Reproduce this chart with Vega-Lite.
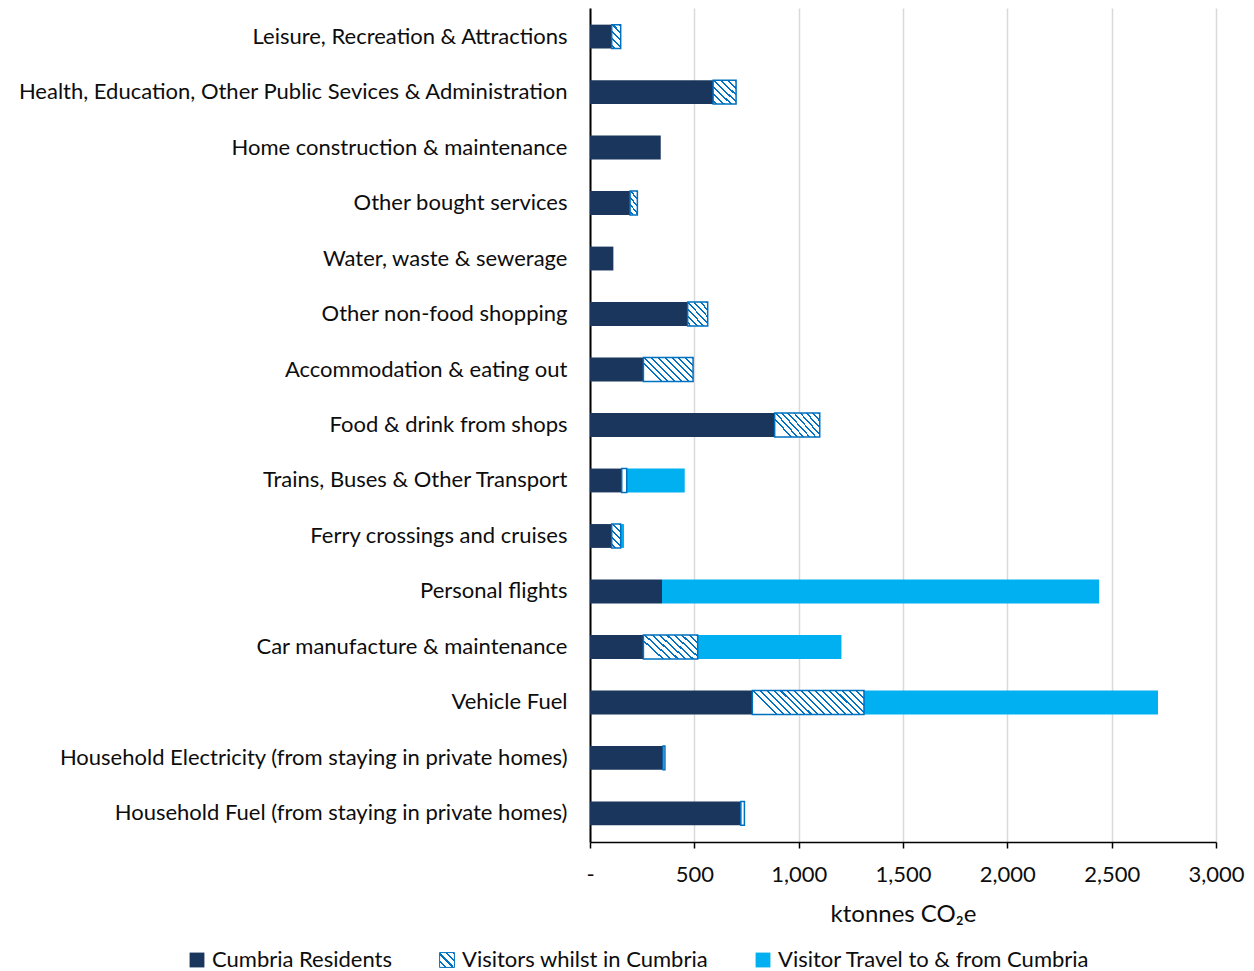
{
  "$schema": "https://vega.github.io/schema/vega-lite/v6.json",
  "width": 626,
  "height": 834,
  "autosize": {"type": "none"},
  "padding": {"left": 590, "top": 8, "right": 38, "bottom": 129},
  "background": "white",
  "params": [
    {"name": "gA", "value": {"gradient": "linear", "x1": 0, "y1": 0.215, "x2": 1, "y2": 0, "stops": [
      {"offset": 0, "color": "#ffffff"},
      {"offset": 0.0412, "color": "#ffffff"}, {"offset": 0.0412, "color": "#0070c0"}, {"offset": 0.0588, "color": "#0070c0"}, {"offset": 0.0588, "color": "#ffffff"},
      {"offset": 0.1, "color": "#ffffff"}, {"offset": 0.1, "color": "#0070c0"}, {"offset": 0.1176, "color": "#0070c0"}, {"offset": 0.1176, "color": "#ffffff"},
      {"offset": 0.1588, "color": "#ffffff"}, {"offset": 0.1588, "color": "#0070c0"}, {"offset": 0.1765, "color": "#0070c0"}, {"offset": 0.1765, "color": "#ffffff"},
      {"offset": 0.2176, "color": "#ffffff"}, {"offset": 0.2176, "color": "#0070c0"}, {"offset": 0.2353, "color": "#0070c0"}, {"offset": 0.2353, "color": "#ffffff"},
      {"offset": 0.2765, "color": "#ffffff"}, {"offset": 0.2765, "color": "#0070c0"}, {"offset": 0.2941, "color": "#0070c0"}, {"offset": 0.2941, "color": "#ffffff"},
      {"offset": 0.3353, "color": "#ffffff"}, {"offset": 0.3353, "color": "#0070c0"}, {"offset": 0.3529, "color": "#0070c0"}, {"offset": 0.3529, "color": "#ffffff"},
      {"offset": 0.3941, "color": "#ffffff"}, {"offset": 0.3941, "color": "#0070c0"}, {"offset": 0.4118, "color": "#0070c0"}, {"offset": 0.4118, "color": "#ffffff"},
      {"offset": 0.4529, "color": "#ffffff"}, {"offset": 0.4529, "color": "#0070c0"}, {"offset": 0.4706, "color": "#0070c0"}, {"offset": 0.4706, "color": "#ffffff"},
      {"offset": 0.5118, "color": "#ffffff"}, {"offset": 0.5118, "color": "#0070c0"}, {"offset": 0.5294, "color": "#0070c0"}, {"offset": 0.5294, "color": "#ffffff"},
      {"offset": 0.5706, "color": "#ffffff"}, {"offset": 0.5706, "color": "#0070c0"}, {"offset": 0.5882, "color": "#0070c0"}, {"offset": 0.5882, "color": "#ffffff"},
      {"offset": 0.6294, "color": "#ffffff"}, {"offset": 0.6294, "color": "#0070c0"}, {"offset": 0.6471, "color": "#0070c0"}, {"offset": 0.6471, "color": "#ffffff"},
      {"offset": 0.6882, "color": "#ffffff"}, {"offset": 0.6882, "color": "#0070c0"}, {"offset": 0.7059, "color": "#0070c0"}, {"offset": 0.7059, "color": "#ffffff"},
      {"offset": 0.7471, "color": "#ffffff"}, {"offset": 0.7471, "color": "#0070c0"}, {"offset": 0.7647, "color": "#0070c0"}, {"offset": 0.7647, "color": "#ffffff"},
      {"offset": 0.8059, "color": "#ffffff"}, {"offset": 0.8059, "color": "#0070c0"}, {"offset": 0.8235, "color": "#0070c0"}, {"offset": 0.8235, "color": "#ffffff"},
      {"offset": 0.8647, "color": "#ffffff"}, {"offset": 0.8647, "color": "#0070c0"}, {"offset": 0.8824, "color": "#0070c0"}, {"offset": 0.8824, "color": "#ffffff"},
      {"offset": 0.9235, "color": "#ffffff"}, {"offset": 0.9235, "color": "#0070c0"}, {"offset": 0.9412, "color": "#0070c0"}, {"offset": 0.9412, "color": "#ffffff"},
      {"offset": 0.9824, "color": "#ffffff"}, {"offset": 0.9824, "color": "#0070c0"}, {"offset": 1, "color": "#0070c0"}
    ]}},
    {"name": "gB", "value": {"gradient": "linear", "x1": 0, "y1": 0.48, "x2": 1, "y2": 0, "stops": [
      {"offset": 0, "color": "#ffffff"},
      {"offset": 0.0778, "color": "#ffffff"}, {"offset": 0.0778, "color": "#0070c0"}, {"offset": 0.1111, "color": "#0070c0"}, {"offset": 0.1111, "color": "#ffffff"},
      {"offset": 0.1889, "color": "#ffffff"}, {"offset": 0.1889, "color": "#0070c0"}, {"offset": 0.2222, "color": "#0070c0"}, {"offset": 0.2222, "color": "#ffffff"},
      {"offset": 0.3, "color": "#ffffff"}, {"offset": 0.3, "color": "#0070c0"}, {"offset": 0.3333, "color": "#0070c0"}, {"offset": 0.3333, "color": "#ffffff"},
      {"offset": 0.4111, "color": "#ffffff"}, {"offset": 0.4111, "color": "#0070c0"}, {"offset": 0.4444, "color": "#0070c0"}, {"offset": 0.4444, "color": "#ffffff"},
      {"offset": 0.5222, "color": "#ffffff"}, {"offset": 0.5222, "color": "#0070c0"}, {"offset": 0.5556, "color": "#0070c0"}, {"offset": 0.5556, "color": "#ffffff"},
      {"offset": 0.6333, "color": "#ffffff"}, {"offset": 0.6333, "color": "#0070c0"}, {"offset": 0.6667, "color": "#0070c0"}, {"offset": 0.6667, "color": "#ffffff"},
      {"offset": 0.7444, "color": "#ffffff"}, {"offset": 0.7444, "color": "#0070c0"}, {"offset": 0.7778, "color": "#0070c0"}, {"offset": 0.7778, "color": "#ffffff"},
      {"offset": 0.8556, "color": "#ffffff"}, {"offset": 0.8556, "color": "#0070c0"}, {"offset": 0.8889, "color": "#0070c0"}, {"offset": 0.8889, "color": "#ffffff"},
      {"offset": 0.9667, "color": "#ffffff"}, {"offset": 0.9667, "color": "#0070c0"}, {"offset": 1, "color": "#0070c0"}
    ]}},
    {"name": "gC", "value": {"gradient": "linear", "x1": 0, "y1": 1.1, "x2": 1, "y2": 0, "stops": [
      {"offset": 0, "color": "#ffffff"},
      {"offset": 0.1, "color": "#ffffff"}, {"offset": 0.1, "color": "#0070c0"}, {"offset": 0.1429, "color": "#0070c0"}, {"offset": 0.1429, "color": "#ffffff"},
      {"offset": 0.2429, "color": "#ffffff"}, {"offset": 0.2429, "color": "#0070c0"}, {"offset": 0.2857, "color": "#0070c0"}, {"offset": 0.2857, "color": "#ffffff"},
      {"offset": 0.3857, "color": "#ffffff"}, {"offset": 0.3857, "color": "#0070c0"}, {"offset": 0.4286, "color": "#0070c0"}, {"offset": 0.4286, "color": "#ffffff"},
      {"offset": 0.5286, "color": "#ffffff"}, {"offset": 0.5286, "color": "#0070c0"}, {"offset": 0.5714, "color": "#0070c0"}, {"offset": 0.5714, "color": "#ffffff"},
      {"offset": 0.6714, "color": "#ffffff"}, {"offset": 0.6714, "color": "#0070c0"}, {"offset": 0.7143, "color": "#0070c0"}, {"offset": 0.7143, "color": "#ffffff"},
      {"offset": 0.8143, "color": "#ffffff"}, {"offset": 0.8143, "color": "#0070c0"}, {"offset": 0.8571, "color": "#0070c0"}, {"offset": 0.8571, "color": "#ffffff"},
      {"offset": 0.9571, "color": "#ffffff"}, {"offset": 0.9571, "color": "#0070c0"}, {"offset": 1, "color": "#0070c0"}
    ]}},
    {"name": "gD", "value": {"gradient": "linear", "x1": 0, "y1": 2.6, "x2": 1, "y2": 0, "stops": [
      {"offset": 0, "color": "#ffffff"},
      {"offset": 0.07, "color": "#ffffff"}, {"offset": 0.07, "color": "#0070c0"}, {"offset": 0.1, "color": "#0070c0"}, {"offset": 0.1, "color": "#ffffff"},
      {"offset": 0.17, "color": "#ffffff"}, {"offset": 0.17, "color": "#0070c0"}, {"offset": 0.2, "color": "#0070c0"}, {"offset": 0.2, "color": "#ffffff"},
      {"offset": 0.27, "color": "#ffffff"}, {"offset": 0.27, "color": "#0070c0"}, {"offset": 0.3, "color": "#0070c0"}, {"offset": 0.3, "color": "#ffffff"},
      {"offset": 0.37, "color": "#ffffff"}, {"offset": 0.37, "color": "#0070c0"}, {"offset": 0.4, "color": "#0070c0"}, {"offset": 0.4, "color": "#ffffff"},
      {"offset": 0.47, "color": "#ffffff"}, {"offset": 0.47, "color": "#0070c0"}, {"offset": 0.5, "color": "#0070c0"}, {"offset": 0.5, "color": "#ffffff"},
      {"offset": 0.57, "color": "#ffffff"}, {"offset": 0.57, "color": "#0070c0"}, {"offset": 0.6, "color": "#0070c0"}, {"offset": 0.6, "color": "#ffffff"},
      {"offset": 0.67, "color": "#ffffff"}, {"offset": 0.67, "color": "#0070c0"}, {"offset": 0.7, "color": "#0070c0"}, {"offset": 0.7, "color": "#ffffff"},
      {"offset": 0.77, "color": "#ffffff"}, {"offset": 0.77, "color": "#0070c0"}, {"offset": 0.8, "color": "#0070c0"}, {"offset": 0.8, "color": "#ffffff"},
      {"offset": 0.87, "color": "#ffffff"}, {"offset": 0.87, "color": "#0070c0"}, {"offset": 0.9, "color": "#0070c0"}, {"offset": 0.9, "color": "#ffffff"},
      {"offset": 0.97, "color": "#ffffff"}, {"offset": 0.97, "color": "#0070c0"}, {"offset": 1, "color": "#0070c0"}
    ]}},
    {"name": "gL", "value": {"gradient": "linear", "x1": 0, "y1": 1, "x2": 1, "y2": 0, "stops": [
      {"offset": 0, "color": "#ffffff"},
      {"offset": 0.175, "color": "#ffffff"}, {"offset": 0.175, "color": "#0070c0"}, {"offset": 0.25, "color": "#0070c0"}, {"offset": 0.25, "color": "#ffffff"},
      {"offset": 0.425, "color": "#ffffff"}, {"offset": 0.425, "color": "#0070c0"}, {"offset": 0.5, "color": "#0070c0"}, {"offset": 0.5, "color": "#ffffff"},
      {"offset": 0.675, "color": "#ffffff"}, {"offset": 0.675, "color": "#0070c0"}, {"offset": 0.75, "color": "#0070c0"}, {"offset": 0.75, "color": "#ffffff"},
      {"offset": 0.925, "color": "#ffffff"}, {"offset": 0.925, "color": "#0070c0"}, {"offset": 1, "color": "#0070c0"}
    ]}}
  ],
  "data": {"values": [
    {"category": "Leisure, Recreation & Attractions", "series": "Cumbria Residents", "value": 104},
    {"category": "Leisure, Recreation & Attractions", "series": "Visitors whilst in Cumbria", "value": 43},
    {"category": "Health, Education, Other Public Sevices & Administration", "series": "Cumbria Residents", "value": 590},
    {"category": "Health, Education, Other Public Sevices & Administration", "series": "Visitors whilst in Cumbria", "value": 110},
    {"category": "Home construction & maintenance", "series": "Cumbria Residents", "value": 339},
    {"category": "Other bought services", "series": "Cumbria Residents", "value": 192},
    {"category": "Other bought services", "series": "Visitors whilst in Cumbria", "value": 35},
    {"category": "Water, waste & sewerage", "series": "Cumbria Residents", "value": 112},
    {"category": "Other non-food shopping", "series": "Cumbria Residents", "value": 468},
    {"category": "Other non-food shopping", "series": "Visitors whilst in Cumbria", "value": 96},
    {"category": "Accommodation & eating out", "series": "Cumbria Residents", "value": 256},
    {"category": "Accommodation & eating out", "series": "Visitors whilst in Cumbria", "value": 238},
    {"category": "Food & drink from shops", "series": "Cumbria Residents", "value": 885},
    {"category": "Food & drink from shops", "series": "Visitors whilst in Cumbria", "value": 216},
    {"category": "Trains, Buses & Other Transport", "series": "Cumbria Residents", "value": 152},
    {"category": "Trains, Buses & Other Transport", "series": "Visitors whilst in Cumbria", "value": 24},
    {"category": "Trains, Buses & Other Transport", "series": "Visitor Travel to & from Cumbria", "value": 278},
    {"category": "Ferry crossings and cruises", "series": "Cumbria Residents", "value": 104},
    {"category": "Ferry crossings and cruises", "series": "Visitors whilst in Cumbria", "value": 43},
    {"category": "Ferry crossings and cruises", "series": "Visitor Travel to & from Cumbria", "value": 16},
    {"category": "Personal flights", "series": "Cumbria Residents", "value": 345},
    {"category": "Personal flights", "series": "Visitor Travel to & from Cumbria", "value": 2095},
    {"category": "Car manufacture & maintenance", "series": "Cumbria Residents", "value": 256},
    {"category": "Car manufacture & maintenance", "series": "Visitors whilst in Cumbria", "value": 260},
    {"category": "Car manufacture & maintenance", "series": "Visitor Travel to & from Cumbria", "value": 689},
    {"category": "Vehicle Fuel", "series": "Cumbria Residents", "value": 778},
    {"category": "Vehicle Fuel", "series": "Visitors whilst in Cumbria", "value": 535},
    {"category": "Vehicle Fuel", "series": "Visitor Travel to & from Cumbria", "value": 1409},
    {"category": "Household Electricity (from staying in private homes)", "series": "Cumbria Residents", "value": 350},
    {"category": "Household Electricity (from staying in private homes)", "series": "Visitors whilst in Cumbria", "value": 9},
    {"category": "Household Fuel (from staying in private homes)", "series": "Cumbria Residents", "value": 723},
    {"category": "Household Fuel (from staying in private homes)", "series": "Visitors whilst in Cumbria", "value": 17}
  ]},
  "transform": [
    {"calculate": "indexof(['Cumbria Residents', 'Visitors whilst in Cumbria', 'Visitor Travel to & from Cumbria'], datum.series)", "as": "ord"},
    {"stack": "value", "groupby": ["category"], "sort": [{"field": "ord", "order": "ascending"}], "as": ["x0", "x1"]}
  ],
  "encoding": {
    "y": {
      "field": "category",
      "type": "nominal",
      "sort": [
        "Leisure, Recreation & Attractions",
        "Health, Education, Other Public Sevices & Administration",
        "Home construction & maintenance",
        "Other bought services",
        "Water, waste & sewerage",
        "Other non-food shopping",
        "Accommodation & eating out",
        "Food & drink from shops",
        "Trains, Buses & Other Transport",
        "Ferry crossings and cruises",
        "Personal flights",
        "Car manufacture & maintenance",
        "Vehicle Fuel",
        "Household Electricity (from staying in private homes)",
        "Household Fuel (from staying in private homes)"
      ],
      "scale": {"paddingInner": 0.57, "paddingOuter": 0.3},
      "axis": {
        "title": null,
        "ticks": false,
        "domainColor": "#000000",
        "domainWidth": 2,
        "labelFontSize": 22,
        "labelColor": "#0d0d0d",
        "labelPadding": 23,
        "labelLimit": 1000
      }
    },
    "x": {
      "field": "x0",
      "type": "quantitative",
      "scale": {"domain": [0, 3000], "nice": false},
      "axis": {
        "values": [0, 500, 1000, 1500, 2000, 2500, 3000],
        "labelExpr": "datum.value == 0 ? '-' : format(datum.value, ',')",
        "title": "ktonnes CO₂e",
        "grid": true,
        "gridColor": "#d9d9d9",
        "gridWidth": 1.5,
        "domainColor": "#000000",
        "domainWidth": 1.5,
        "tickColor": "#000000",
        "tickWidth": 1.5,
        "tickSize": 6,
        "labelFontSize": 22,
        "labelColor": "#0d0d0d",
        "labelPadding": 16,
        "labelFlush": false,
        "labelOverlap": false,
        "titleFontSize": 24,
        "titleFontWeight": "normal",
        "titleColor": "#0d0d0d",
        "titlePadding": 17
      }
    },
    "x2": {"field": "x1"}
  },
  "layer": [
    {
      "mark": {"type": "bar"},
      "encoding": {
        "color": {
          "field": "series",
          "type": "nominal",
          "scale": {
            "domain": ["Cumbria Residents", "Visitors whilst in Cumbria", "Visitor Travel to & from Cumbria"],
            "range": ["#1a365d", {"expr": "gL"}, "#00b0f0"]
          },
          "legend": {
            "orient": "none",
            "legendX": -404,
            "legendY": 941,
            "direction": "horizontal",
            "title": null,
            "symbolType": "square",
            "symbolSize": 220,
            "symbolStrokeWidth": 1,
            "labelFontSize": 22,
            "labelColor": "#0d0d0d",
            "labelOffset": 4,
            "columnPadding": 43,
            "labelLimit": 1000,
            "encode": {
              "symbols": {"update": {"stroke": {"signal": "datum.value === 'Visitors whilst in Cumbria' ? '#0070c0' : 'transparent'"}}}
            }
          }
        }
      }
    },
    {
      "transform": [{"filter": "datum.series === 'Visitors whilst in Cumbria'"}],
      "mark": {
        "type": "bar",
        "stroke": "#0070c0",
        "strokeWidth": 1.5,
        "fill": {"expr": "datum.value >= 400 ? gA : datum.value >= 200 ? gB : datum.value >= 80 ? gC : datum.value >= 30 ? gD : '#ffffff'"}
      }
    }
  ],
  "config": {
    "font": "Lato",
    "view": {"stroke": null}
  }
}
